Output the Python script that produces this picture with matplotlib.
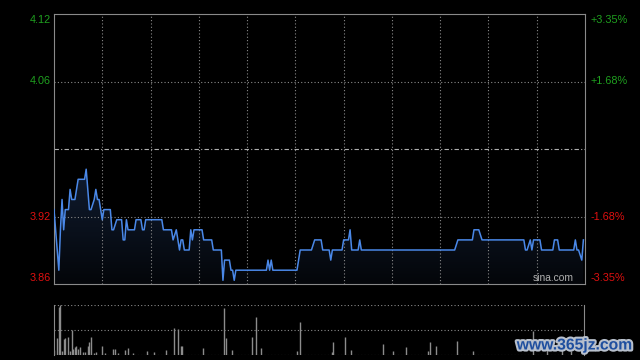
import numpy as np
import matplotlib.pyplot as plt
import matplotlib.patheffects as pe

# intraday price, minute index from open (HK session, 330 minutes)
price_min = [0, 3, 4, 5, 6, 7, 9, 10, 11, 13, 15, 19, 20, 22, 23, 25, 26, 27, 28, 30,
             31, 35, 36, 37, 39, 42, 43, 44, 45, 46, 50, 51, 54, 55, 56, 57, 67, 68,
             73, 74, 76, 78, 79, 80, 81, 84, 85, 86, 87, 92, 93, 98, 99, 104, 105, 106,
             109, 110, 111, 112, 113, 132, 133, 134, 135, 136, 151, 153, 160, 162, 166,
             167, 171, 172, 173, 179, 180, 183, 184, 185, 189, 190, 191, 249, 251, 260,
             261, 264, 266, 292, 293, 294, 296, 297, 298, 302, 303, 310, 311, 313, 314,
             323, 324, 325, 326, 328, 329]
price_val = [3.93, 3.87, 3.91, 3.94, 3.91, 3.93, 3.93, 3.95, 3.94, 3.94, 3.96, 3.96, 3.97,
             3.93, 3.93, 3.94, 3.95, 3.94, 3.94, 3.92, 3.93, 3.93, 3.91, 3.91, 3.92, 3.92,
             3.90, 3.90, 3.92, 3.91, 3.91, 3.92, 3.92, 3.91, 3.91, 3.92, 3.92, 3.91, 3.91,
             3.90, 3.91, 3.89, 3.90, 3.90, 3.89, 3.89, 3.91, 3.90, 3.91, 3.91, 3.90, 3.90,
             3.89, 3.89, 3.86, 3.88, 3.88, 3.87, 3.87, 3.86, 3.87, 3.87, 3.88, 3.87, 3.88,
             3.87, 3.87, 3.89, 3.89, 3.90, 3.90, 3.89, 3.89, 3.88, 3.89, 3.89, 3.90, 3.90,
             3.91, 3.89, 3.89, 3.90, 3.89, 3.89, 3.90, 3.90, 3.91, 3.91, 3.90, 3.90, 3.89,
             3.89, 3.90, 3.89, 3.90, 3.90, 3.89, 3.89, 3.90, 3.90, 3.89, 3.89, 3.90, 3.89,
             3.89, 3.88, 3.90]

# volume, relative units (100 = panel top)
vol_min = [0, 2, 3, 4, 5, 6, 7, 9, 10, 11, 12, 13, 14, 15, 16, 18, 19, 21, 22, 23, 25,
           26, 30, 32, 37, 38, 40, 44, 46, 49, 58, 62, 70, 75, 77, 79, 80, 93, 106, 107,
           111, 123, 126, 129, 151, 153, 173, 174, 181, 185, 205, 211, 219, 233, 234,
           238, 251, 261, 298, 307, 316, 322]
vol_val = [10, 33, 95, 100, 7, 31, 33, 35, 7, 50, 11, 15, 18, 11, 15, 5, 5, 18, 25, 35, 3,
           5, 18, 3, 11, 11, 3, 9, 13, 3, 8, 6, 10, 53, 51, 18, 18, 13, 93, 33,
           10, 35, 76, 13, 8, 66, 6, 25, 35, 10, 22, 8, 15, 8, 25,
           17, 28, 8, 48, 13, 10, 8]

prev_close = 3.99
left_labels = ['4.12', '4.06', '3.92', '3.86']
right_labels = ['+3.35%', '+1.68%', '-1.68%', '-3.35%']
label_pos = [0.978, 0.75, 0.25, 0.022]
label_colors = ['#1fa01f', '#1fa01f', '#e01010', '#e01010']

plt.rcParams['font.family'] = ['Liberation Sans', 'DejaVu Sans']

fig = plt.figure(figsize=(6.4, 3.6), dpi=100, facecolor='black')
ax = fig.add_axes([54 / 640, 76 / 360, 531 / 640, 270 / 360], facecolor='black')
axv = fig.add_axes([54 / 640, 5.3 / 360, 530 / 640, 50 / 360], facecolor='black')

lo, hi = prev_close * (1 - 0.0335), prev_close * (1 + 0.0335)
ax.set_xlim(0, 330)
ax.set_ylim(lo, hi)

grid_kw = dict(color='#8a8a8a', linewidth=0.8, linestyle=(0, (1, 2)))
for m in range(30, 330, 30):
    ax.axvline(m, **grid_kw)
for f in [0.25, 0.75]:
    ax.axhline(lo + (hi - lo) * f, **grid_kw)
ax.axhline(prev_close, color='#b0b0b0', linewidth=0.8, linestyle=(0, (4, 2, 1, 2)))

# gradient fill under price line
poly = ax.fill_between(price_min, price_val, lo, color='none')
grad = np.linspace(0, 1, 100).reshape(-1, 1)
img = ax.imshow(grad, extent=[0, 330, lo, max(price_val)], aspect='auto',
                cmap=plt.matplotlib.colors.LinearSegmentedColormap.from_list(
                    'g', ['#04060a', '#101c30']), origin='lower', zorder=1)
img.set_clip_path(poly.get_paths()[0], transform=ax.transData)
ax.plot(price_min, price_val, color='#4a88e8', linewidth=1.1, zorder=3)
ax.set_xlim(0, 330)
ax.set_ylim(lo, hi)

for s in ax.spines.values():
    s.set_color('#8a8a8a')
ax.set_xticks([])
ax.set_yticks([])

for t, r, p, c in zip(left_labels, right_labels, label_pos, label_colors):
    ax.text(-0.006, p, t, transform=ax.transAxes, ha='right', va='center',
            color=c, fontsize=7.8)
    ax.text(1.01, p, r, transform=ax.transAxes, ha='left', va='center',
            color=c, fontsize=7.8)

ax.text(0.978, 0.022, 'sina.com', transform=ax.transAxes, ha='right', va='center',
        color='#b0b0b0', fontsize=7.4)

# volume panel
axv.vlines(vol_min, 0, vol_val, color='#8c8c8c', linewidth=1)
axv.set_xlim(0, 330)
axv.set_ylim(0, 100)
for f in [0, 50, 100]:
    axv.axhline(f, **grid_kw)
axv.spines['top'].set_visible(False)
axv.spines['bottom'].set_visible(False)
axv.spines['left'].set_color('#8a8a8a')
axv.spines['right'].set_color('#8a8a8a')
axv.set_xticks([])
axv.set_yticks([])

fig.text(575 / 640, 15 / 360, 'www.365jz.com', ha='center', va='center',
         color='#1f4f9f', fontsize=11.3, fontweight='bold',
         path_effects=[pe.withStroke(linewidth=3, foreground='#b8c0cc')])

fig.savefig('out.png', dpi=100, facecolor='black')
